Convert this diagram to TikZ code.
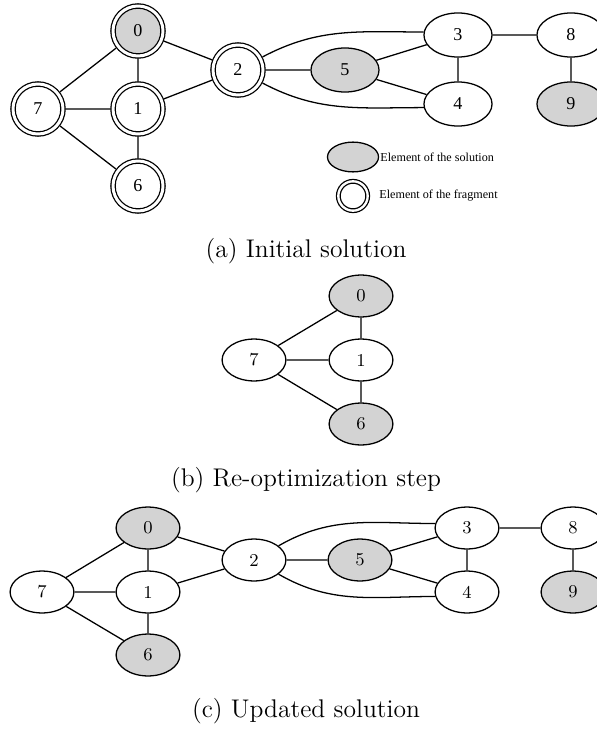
\documentclass[tikz,border=0pt]{standalone}
\usepackage{fontspec}
\newfontfamily\timesfont{Liberation Serif}
\usetikzlibrary{shapes.geometric}

\definecolor{solgray}{HTML}{D3D3D3}

\tikzset{
  vtx/.style={ellipse, draw, line width=0.6pt, inner sep=0pt, minimum width=30pt, minimum height=19.7pt, font=\fontsize{8.5}{10}\selectfont},
  bigvtx/.style={vtx, minimum width=32pt, minimum height=20.7pt, font=\timesfont\fontsize{8.5}{10}\selectfont},
  fragvtx/.style={circle, draw, line width=0.6pt, double, double distance=1.4pt, inner sep=0pt, minimum size=23.5pt, outer sep=1.3pt, font=\timesfont\fontsize{8.5}{10}\selectfont},
  sol/.style={fill=solgray},
  link/.style={line width=0.6pt},
  subcap/.style={font=\fontsize{12}{14}\selectfont, anchor=base},
  legtext/.style={font=\timesfont\fontsize{5.7}{7}\selectfont, anchor=west, inner sep=0pt}
}

\begin{document}
\begin{tikzpicture}[x=0.47pt, y=0.47pt]

% Frame of the whole figure
\clip (0,0) rectangle (597,-729);

% (a) Initial solution
\node[fragvtx, sol] (a0) at (138,-31) {0};
\node[fragvtx] (a1) at (138,-109) {1};
\node[fragvtx] (a7) at (38,-109) {7};
\node[fragvtx] (a6) at (138,-186) {6};
\node[fragvtx] (a2) at (238,-70) {2};
\node[bigvtx, sol] (a5) at (345,-70) {5};
\node[bigvtx] (a3) at (458,-35) {3};
\node[bigvtx] (a4) at (458,-104) {4};
\node[bigvtx] (a8) at (571,-35) {8};
\node[bigvtx, sol] (a9) at (571,-104) {9};

\draw[link] (a0) -- (a1) (a0) -- (a7) (a0) -- (a2) (a1) -- (a7) (a1) -- (a2)
  (a1) -- (a6) (a7) -- (a6) (a2) -- (a5) (a5) -- (a3) (a5) -- (a4)
  (a3) -- (a4) (a3) -- (a8) (a8) -- (a9);
\draw[link] (a2) to[out=28, in=180] (a3.175); % upper arc
\draw[link] (a2) to[out=-28, in=180] (a4.186); % lower arc

% Legend
\node[vtx, sol, minimum width=24pt, minimum height=14pt] (legsol) at (353,-157) {};
\node[legtext] (legsoltxt) at (380,-157) {Element of the solution};
\node[fragvtx, minimum size=13.8pt, double distance=1.1pt, outer sep=0pt] (legfrag) at (353,-196) {};
\node[legtext] (legfragtxt) at (379,-196) {Element of the fragment};

\node[subcap] (capa) at (306,-257) {(a) Initial solution};

% (b) Re-optimization step
\node[vtx, sol] (b0) at (361,-296) {0};
\node[vtx] (b1) at (361,-360) {1};
\node[vtx] (b7) at (254,-360) {7};
\node[vtx, sol] (b6) at (361,-424) {6};

\draw[link] (b0) -- (b1) (b0) -- (b7) (b7) -- (b1) (b7) -- (b6) (b1) -- (b6);

\node[subcap] (capb) at (306,-486) {(b) Re-optimization step};

% (c) Updated solution
\node[vtx, sol] (c0) at (148,-528) {0};
\node[vtx] (c1) at (148,-592) {1};
\node[vtx] (c7) at (42,-592) {7};
\node[vtx, sol] (c6) at (148,-655) {6};
\node[vtx] (c2) at (254,-560) {2};
\node[vtx, sol] (c5) at (360,-560) {5};
\node[vtx] (c3) at (467,-528) {3};
\node[vtx] (c4) at (467,-592) {4};
\node[vtx] (c8) at (573,-528) {8};
\node[vtx, sol] (c9) at (573,-592) {9};

\draw[link] (c0) -- (c1) (c0) -- (c7) (c0) -- (c2) (c1) -- (c7) (c1) -- (c2)
  (c1) -- (c6) (c7) -- (c6) (c2) -- (c5) (c5) -- (c3) (c5) -- (c4)
  (c3) -- (c4) (c3) -- (c8) (c8) -- (c9);
\draw[link] (c2) to[out=30, in=180] (c3.172); % upper arc
\draw[link] (c2) to[out=-30, in=180] (c4.188); % lower arc

\node[subcap] (capc) at (306,-717) {(c) Updated solution};

\end{tikzpicture}
\end{document}
